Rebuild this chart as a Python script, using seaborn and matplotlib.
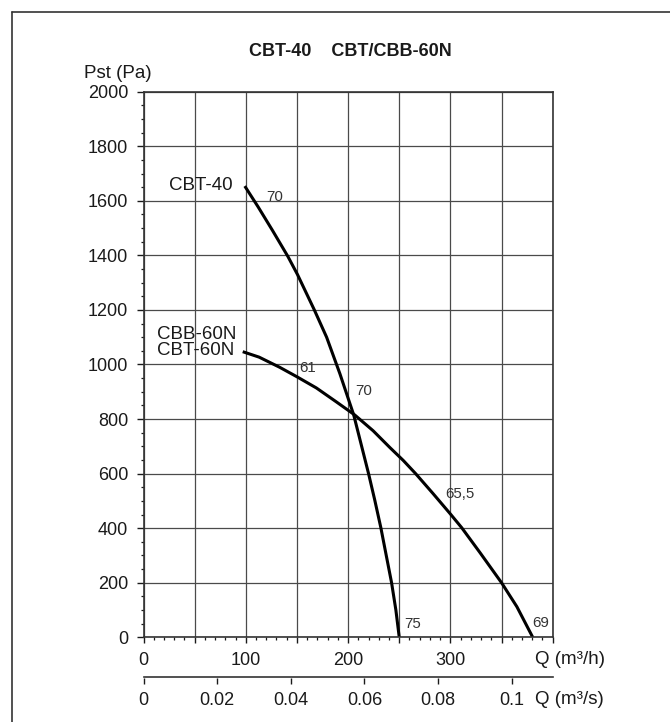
import matplotlib
matplotlib.use("Agg")
import matplotlib.pyplot as plt
from matplotlib.lines import Line2D
from matplotlib.ticker import MultipleLocator, FixedLocator
import seaborn as sns

# fan curves: Q in m3/h, Pst in Pa
q_cbt40 = [99, 112, 126, 141, 150.5, 167, 179, 192, 205.5, 220, 226, 232, 237.5, 242.5, 246.7, 250]
p_cbt40 = [1654, 1578, 1492, 1397, 1330, 1200, 1100, 966, 815, 600, 504, 402, 296, 200, 100, 0]

q_cbt60 = [97, 113, 133, 150, 169, 188.5, 206.5, 224.5, 241, 254, 266, 283, 300, 311, 329, 350, 365, 380.5]
p_cbt60 = [1047, 1027, 990, 955, 914, 863, 815, 757, 695, 648, 600, 527, 452, 402, 310, 200, 112, 0]

# small numbers printed along the curves
mark_text = ["70", "61", "70", "65,5", "75", "69"]
mark_q = [120, 152, 207, 295, 255, 380]
mark_p = [1615, 989, 903, 524, 47, 52]

q_ticks = [0, 100, 200, 300]
qs_ticks = [0, 0.02, 0.04, 0.06, 0.08, 0.1]
qs_labels = ["0", "0.02", "0.04", "0.06", "0.08", "0.1"]
p_ticks = list(range(0, 2001, 200))

sns.set_style("ticks")
plt.rcParams['font.family'] = ['Liberation Sans', 'DejaVu Sans']
ink = "#1a1a1a"

fig = plt.figure(figsize=(6.7, 7.22), dpi=100)
L, R = 143.5 / 670, 552.7 / 670
B, T = 1 - 637.3 / 722, 1 - 91.7 / 722
ax = fig.add_axes([L, B, R - L, T - B])

for qq, pp in [(q_cbt40, p_cbt40), (q_cbt60, p_cbt60)]:
    sns.lineplot(x=qq, y=pp, sort=False, estimator=None, color="black", lw=2.2, ax=ax,
                 solid_joinstyle="round", solid_capstyle="butt")

ax.set_xlim(0, 400)
ax.set_ylim(0, 2000)
ax.xaxis.set_major_locator(MultipleLocator(50))
ax.xaxis.set_minor_locator(MultipleLocator(10))
ax.set_xticklabels([str(int(v)) if v in q_ticks else "" for v in ax.get_xticks()])
ax.yaxis.set_major_locator(FixedLocator(p_ticks))
ax.yaxis.set_minor_locator(MultipleLocator(50))
ax.grid(True, which="major", color="#4a4a4a", lw=0.9)
ax.set_axisbelow(True)
for s in ax.spines.values():
    s.set_color("#333333")
    s.set_linewidth(1.2)
ax.tick_params(axis="x", which="major", length=4.5, width=1, pad=6, labelsize=13, colors=ink)
ax.tick_params(axis="y", which="major", length=5, width=1, pad=6, labelsize=13, colors=ink)
ax.tick_params(which="minor", length=2.2, width=0.9, colors=ink)
ax.set_xlabel("")
ax.set_ylabel("")

# curve names
ax.text(87, 1655, "CBT-40", ha="right", va="center", fontsize=13.5, color=ink)
ax.text(91, 1111, "CBB-60N", ha="right", va="center", fontsize=13.5, color=ink)
ax.text(88.5, 1050, "CBT-60N", ha="right", va="center", fontsize=13.5, color=ink)
for t, q, p in zip(mark_text, mark_q, mark_p):
    ax.text(q, p, t, ha="left", va="center", fontsize=10.8, color="#333333")

# second flow scale in m3/s
yl = 1 - 677.3 / 722
ax2 = fig.add_axes([L, yl - 0.001, R - L, 0.001])
ax2.set_xlim(0, 400 / 3600)
ax2.set_yticks([])
for k in ["left", "right", "bottom"]:
    ax2.spines[k].set_visible(False)
ax2.spines["top"].set_color("#333333")
ax2.spines["top"].set_linewidth(1.2)
ax2.patch.set_alpha(0)
ax2.set_xticks(qs_ticks)
ax2.set_xticklabels(qs_labels)
ax2.tick_params(axis="x", length=4.5, width=1, pad=5.5, labelsize=13, colors=ink)

fig.text(535 / 670, 1 - 660 / 722, "Q (m³/h)", ha="left", va="center", fontsize=13.5, color=ink)
fig.text(535 / 670, 1 - 699 / 722, "Q (m³/s)", ha="left", va="center", fontsize=13.5, color=ink)
fig.text(84 / 670, 1 - 73 / 722, "Pst (Pa)", ha="left", va="center", fontsize=13.5, color=ink)
fig.text(350 / 670, 1 - 51 / 722, "CBT-40    CBT/CBB-60N", ha="center", va="center",
         fontsize=13, fontweight="bold", color=ink)

# outer frame (only top and left edges show)
fig.add_artist(Line2D([12 / 670, 12 / 670], [0, 1 - 12 / 722], transform=fig.transFigure,
                      color="#333333", lw=1.2))
fig.add_artist(Line2D([12 / 670, 1], [1 - 12 / 722, 1 - 12 / 722], transform=fig.transFigure,
                      color="#333333", lw=1.2))

fig.savefig("out.png", dpi=100, facecolor="white")
